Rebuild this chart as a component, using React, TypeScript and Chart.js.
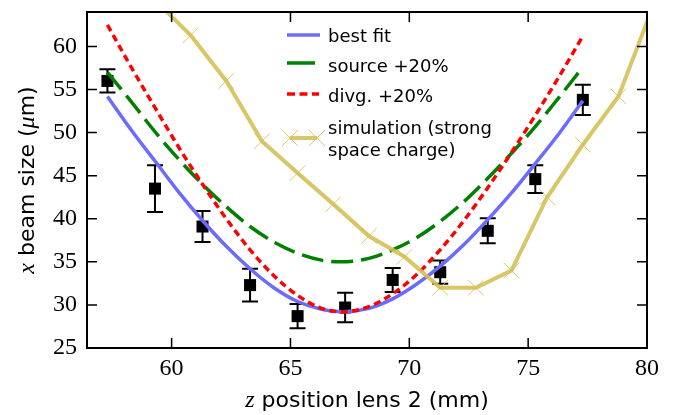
import React, { useEffect, useRef } from "react";
import { Chart, registerables } from "chart.js";

Chart.register(...registerables);

// measured beam sizes
const measZ = [57.3, 59.3, 61.3, 63.3, 65.3, 67.3, 69.3, 71.3, 73.3, 75.3, 77.3];
const measSize = [56.0, 43.5, 39.1, 32.3, 28.7, 29.7, 32.9, 33.8, 38.6, 44.6, 53.8];
const measErr = [1.35, 2.7, 1.8, 1.9, 1.4, 1.7, 1.4, 1.35, 1.45, 1.6, 1.75];

// best fit curve
const bestZ = [57.3, 58.3, 59.3, 60.3, 61.3, 62.3, 63.3, 64.3, 65.3, 66.3, 67.2, 68.3, 69.3, 70.3, 71.3, 72.3, 73.3, 74.3, 75.3, 76.3, 77.3];
const bestVals = [54.2, 50.3, 46.7, 43.1, 39.8, 36.8, 34.2, 32.0, 30.4, 29.5, 29.2, 29.6, 30.7, 32.4, 34.5, 37.0, 39.9, 43.0, 46.4, 49.9, 53.7];

// source +20%
const srcZ = [57.3, 58.3, 59.3, 60.3, 61.3, 62.3, 63.3, 64.3, 65.3, 66.3, 67.1, 68.3, 69.3, 70.3, 71.3, 72.3, 73.3, 74.3, 75.3, 76.3, 77.3];
const srcVals = [57.0, 53.6, 50.1, 46.9, 44.0, 41.4, 39.1, 37.3, 36.0, 35.2, 35.0, 35.4, 36.4, 37.8, 39.7, 42.0, 44.7, 47.6, 50.7, 54.1, 57.6];

// divergence +20%
const divZ = [57.3, 58.3, 59.3, 60.3, 61.3, 62.3, 63.3, 64.3, 65.3, 66.3, 67.2, 68.3, 69.3, 70.3, 71.3, 72.3, 73.3, 74.3, 75.3, 76.3, 77.3];
const divVals = [62.5, 57.6, 52.9, 48.3, 44.0, 40.0, 36.4, 33.4, 31.1, 29.6, 29.2, 29.8, 31.3, 33.5, 36.4, 39.8, 43.6, 47.7, 52.0, 56.5, 61.2];

// simulation (strong space charge)
const simZ = [59.3, 60.8, 62.3, 63.8, 65.3, 66.8, 68.3, 69.8, 71.3, 72.8, 74.3, 75.8, 77.3, 78.8, 80.3];
const simVals = [65.4, 61.3, 56.0, 49.0, 45.3, 41.7, 38.0, 35.6, 32.0, 32.0, 34.0, 42.5, 48.6, 54.2, 65.0];

const xTicks = [60, 65, 70, 75, 80];
const yTicks = [25, 30, 35, 40, 45, 50, 55, 60];

const BLUE = "#6b6bff";
const GREEN = "#008000";
const RED = "#ff0000";
const KHAKI = "rgba(212,192,86,0.9)";
const KHAKI_M = "rgba(212,192,86,0.85)";

const SANS = '"DejaVu Sans"';
const SERIF = '"Liberation Serif"';

const pts = (xs: number[], ys: number[]) => xs.map((x, i) => ({ x, y: ys[i] }));

function drawParts(ctx: CanvasRenderingContext2D, parts: { t: string; f: string }[], cx: number, baseline: number) {
  let total = 0;
  for (const p of parts) {
    ctx.font = p.f;
    total += ctx.measureText(p.t).width;
  }
  let x = cx - total / 2;
  ctx.textAlign = "left";
  ctx.textBaseline = "alphabetic";
  for (const p of parts) {
    ctx.font = p.f;
    ctx.fillText(p.t, x, baseline);
    x += ctx.measureText(p.t).width;
  }
}

function drawCross(ctx: CanvasRenderingContext2D, x: number, y: number, r: number) {
  ctx.beginPath();
  ctx.moveTo(x - r, y - r);
  ctx.lineTo(x + r, y + r);
  ctx.moveTo(x - r, y + r);
  ctx.lineTo(x + r, y - r);
  ctx.stroke();
}

const decorPlugin = {
  id: "decor",
  beforeDatasetsDraw(chart: any) {
    const { ctx, scales } = chart;
    const x = scales.x;
    const y = scales.y;
    const a = chart.chartArea;
    ctx.save();
    ctx.beginPath();
    ctx.rect(a.left, a.top, a.right - a.left, a.bottom - a.top);
    ctx.clip();
    ctx.strokeStyle = "#000";
    ctx.lineWidth = 2;
    for (let i = 0; i < measZ.length; i++) {
      const px = x.getPixelForValue(measZ[i]);
      const pt = y.getPixelForValue(measSize[i] + measErr[i]);
      const pb = y.getPixelForValue(measSize[i] - measErr[i]);
      ctx.beginPath();
      ctx.moveTo(px, pt);
      ctx.lineTo(px, pb);
      ctx.moveTo(px - 8, pt);
      ctx.lineTo(px + 8, pt);
      ctx.moveTo(px - 8, pb);
      ctx.lineTo(px + 8, pb);
      ctx.stroke();
    }
    ctx.restore();
  },
  afterDraw(chart: any) {
    const { ctx, scales } = chart;
    const x = scales.x;
    const y = scales.y;
    const { left, right, top, bottom } = chart.chartArea;
    ctx.save();
    // frame
    ctx.strokeStyle = "#000";
    ctx.lineWidth = 2;
    ctx.strokeRect(left, top, right - left, bottom - top);
    // inward ticks
    ctx.lineWidth = 1.5;
    const tl = 10;
    ctx.beginPath();
    for (const v of xTicks) {
      const px = x.getPixelForValue(v);
      ctx.moveTo(px, bottom);
      ctx.lineTo(px, bottom - tl);
      ctx.moveTo(px, top);
      ctx.lineTo(px, top + tl);
    }
    for (const v of yTicks) {
      const py = y.getPixelForValue(v);
      ctx.moveTo(left, py);
      ctx.lineTo(left + tl, py);
      ctx.moveTo(right, py);
      ctx.lineTo(right - tl, py);
    }
    ctx.stroke();

    // axis titles
    ctx.fillStyle = "#000";
    drawParts(
      ctx,
      [
        { t: "z", f: `italic 24px ${SERIF}` },
        { t: " position lens 2 (mm)", f: `22px ${SANS}` },
      ],
      367,
      407
    );
    ctx.save();
    ctx.translate(34, 180);
    ctx.rotate(-Math.PI / 2);
    drawParts(
      ctx,
      [
        { t: "x", f: `italic 24px ${SERIF}` },
        { t: " beam size (", f: `22px ${SANS}` },
        { t: "μ", f: `italic 24px ${SERIF}` },
        { t: "m)", f: `22px ${SANS}` },
      ],
      0,
      0
    );
    ctx.restore();

    // legend
    ctx.lineCap = "butt";
    ctx.lineWidth = 3.5;
    ctx.strokeStyle = BLUE;
    ctx.beginPath();
    ctx.moveTo(287, 35);
    ctx.lineTo(320, 35);
    ctx.stroke();

    ctx.strokeStyle = GREEN;
    ctx.beginPath();
    ctx.moveTo(287, 63);
    ctx.lineTo(315, 63);
    ctx.stroke();

    ctx.strokeStyle = RED;
    ctx.setLineDash([8, 4.5]);
    ctx.beginPath();
    ctx.moveTo(287, 94);
    ctx.lineTo(319, 94);
    ctx.stroke();
    ctx.setLineDash([]);

    ctx.strokeStyle = KHAKI;
    ctx.lineWidth = 4;
    ctx.beginPath();
    ctx.moveTo(290, 138);
    ctx.lineTo(317, 138);
    ctx.stroke();
    ctx.strokeStyle = KHAKI_M;
    ctx.lineWidth = 1;
    drawCross(ctx, 290, 138, 8);
    drawCross(ctx, 317, 138, 8);

    ctx.fillStyle = "#000";
    ctx.font = `18px ${SANS}`;
    ctx.textAlign = "left";
    ctx.textBaseline = "alphabetic";
    ctx.fillText("best fit", 328, 41.5);
    ctx.fillText("source +20%", 328, 71.5);
    ctx.fillText("divg. +20%", 328, 101.5);
    ctx.fillText("simulation (strong", 328, 133.5);
    ctx.fillText("space charge)", 328, 155.5);
    ctx.restore();
  },
};

export default function App() {
  const ref = useRef<HTMLCanvasElement | null>(null);
  useEffect(() => {
    if (!ref.current) return;
    const chart = new Chart(ref.current, {
      type: "line",
      data: {
        datasets: [
          {
            label: "simulation (strong space charge)",
            data: pts(simZ, simVals),
            borderColor: KHAKI,
            borderWidth: 4,
            pointStyle: "crossRot",
            pointRadius: 11,
            pointBorderWidth: 1,
            pointBorderColor: KHAKI_M,
            pointBackgroundColor: KHAKI_M,
            tension: 0,
            clip: 0,
          } as any,
          {
            label: "divg. +20%",
            data: pts(divZ, divVals),
            borderColor: RED,
            borderWidth: 3.5,
            borderDash: [7, 4.5],
            pointRadius: 0,
            cubicInterpolationMode: "monotone",
            clip: 0,
          } as any,
          {
            label: "source +20%",
            data: pts(srcZ, srcVals),
            borderColor: GREEN,
            borderWidth: 3.5,
            borderDash: [22, 8],
            pointRadius: 0,
            cubicInterpolationMode: "monotone",
            clip: 0,
          } as any,
          {
            label: "best fit",
            data: pts(bestZ, bestVals),
            borderColor: BLUE,
            borderWidth: 3.5,
            pointRadius: 0,
            cubicInterpolationMode: "monotone",
            clip: 0,
          } as any,
          {
            label: "data",
            data: pts(measZ, measSize),
            showLine: false,
            pointStyle: "rect",
            pointRadius: 8.5,
            pointBorderWidth: 0,
            pointBackgroundColor: "#000",
            pointBorderColor: "#000",
            clip: 0,
          } as any,
        ],
      },
      options: {
        animation: false,
        responsive: true,
        maintainAspectRatio: false,
        events: [],
        layout: { padding: { left: 0, right: 26, top: 10, bottom: 0 } },
        plugins: { legend: { display: false }, tooltip: { enabled: false } },
        scales: {
          x: {
            type: "linear",
            min: 56.44,
            max: 80,
            grid: { display: false, drawTicks: false },
            border: { display: false },
            ticks: {
              color: "#000",
              font: { family: "Liberation Serif", size: 24 },
              padding: 6,
              maxRotation: 0,
            },
            afterBuildTicks: (s: any) => {
              s.ticks = xTicks.map((v) => ({ value: v }));
            },
            afterFit: (s: any) => {
              s.height = 67;
              s.paddingLeft = 0;
              s.paddingRight = 0;
            },
          },
          y: {
            type: "linear",
            min: 25,
            max: 64,
            grid: { display: false, drawTicks: false },
            border: { display: false },
            ticks: {
              color: "#000",
              font: { family: "Liberation Serif", size: 24 },
              padding: 10,
            },
            afterBuildTicks: (s: any) => {
              s.ticks = yTicks.map((v) => ({ value: v }));
            },
            afterFit: (s: any) => {
              s.width = 87;
              s.paddingTop = 0;
              s.paddingBottom = 0;
            },
          },
        },
      },
      plugins: [decorPlugin],
    });
    return () => chart.destroy();
  }, []);
  return (
    <div style={{ position: "absolute", left: 0, top: 0, width: 673, height: 415, background: "#fff" }}>
      <canvas ref={ref} />
    </div>
  );
}
